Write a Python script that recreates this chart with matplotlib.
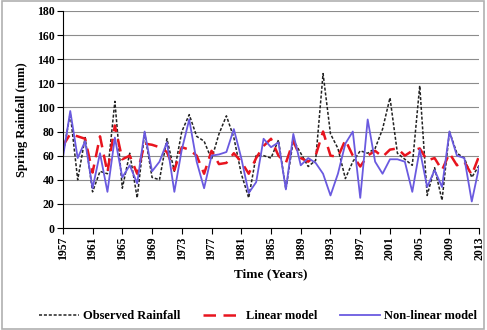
import matplotlib
matplotlib.use("Agg")
import matplotlib.pyplot as plt
from matplotlib.patches import Rectangle

# Data
years = list(range(1957, 2014))

observed = [60, 95, 40, 75, 30, 47, 45, 105, 33, 62,
            25, 79, 42, 40, 74, 47, 80, 94, 76, 72,
            57, 78, 93, 75, 45, 25, 60, 60, 58, 73,
            32, 73, 62, 51, 56, 128, 78, 66, 41, 55,
            64, 62, 66, 82, 108, 62, 57, 52, 118, 27,
            50, 23, 80, 62, 58, 42, 52]

linear = [68, 78, 76, 74, 46, 76, 46, 85, 57, 60,
          45, 70, 69, 67, 63, 48, 67, 65, 60, 45,
          64, 53, 54, 62, 55, 45, 58, 68, 74, 60,
          54, 72, 58, 55, 60, 80, 60, 59, 73, 60,
          51, 60, 64, 59, 65, 66, 60, 64, 66, 56,
          58, 48, 62, 52, 55, 44, 60]

nonlinear = [58, 97, 58, 72, 33, 62, 30, 75, 42, 52,
             37, 80, 47, 55, 71, 30, 65, 90, 55, 33,
             60, 61, 63, 82, 58, 29, 38, 74, 67, 71,
             32, 78, 52, 58, 54, 45, 27, 45, 70, 80,
             25, 90, 55, 45, 57, 57, 55, 30, 65, 34,
             48, 34, 80, 60, 58, 22, 51]

tick_years = list(range(1957, 2014, 4))
y_ticks = list(range(0, 181, 20))

plt.rcParams['font.family'] = ['Liberation Serif', 'DejaVu Serif']
plt.rcParams['font.weight'] = 'bold'

fig = plt.figure(figsize=(4.87, 3.30), dpi=100)
ax = fig.add_axes([0.129, 0.309, 0.855, 0.658])

ax.plot(years, observed, color='#222222', linestyle=(0, (2, 1.2)), lw=1.1,
        label='Observed Rainfall')
ax.plot(years, linear, color='#e8141e', linestyle=(0, (5, 3)), lw=1.8,
        label='Linear model')
ax.plot(years, nonlinear, color='#6a5ae0', lw=1.3, label='Non-linear model')

ax.set_xlim(1957, 2013)
ax.set_ylim(0, 180)
ax.set_xticks(tick_years)
ax.set_xticklabels([str(y) for y in tick_years], rotation=90, fontsize=8.5,
                   fontweight='bold')
ax.set_yticks(y_ticks)
ax.set_yticklabels([str(v) for v in y_ticks], fontsize=8.5, fontweight='bold')
ax.tick_params(direction='out', length=4, width=0.8, pad=2)
ax.grid(axis='y', color='#8c8c8c', lw=0.8)
ax.set_axisbelow(True)
for s in ['top', 'right']:
    ax.spines[s].set_visible(False)

ax.set_ylabel('Spring Rainfall (mm)', fontsize=9, fontweight='bold', labelpad=6)
ax.set_xlabel('Time (Years)', fontsize=9.5, fontweight='bold', labelpad=6)

leg = fig.legend(loc='lower center', bbox_to_anchor=(0.53, -0.01), ncol=3,
                 frameon=False, fontsize=9, handlelength=3.2,
                 handletextpad=0.3, columnspacing=1.8)
for t in leg.get_texts():
    t.set_fontweight('bold')

fig.patches.append(Rectangle((0.004, 0.004), 0.99, 0.992, transform=fig.transFigure,
                             fill=False, edgecolor='#b0b0b0', lw=1.2))

fig.savefig('out.png', dpi=100)
